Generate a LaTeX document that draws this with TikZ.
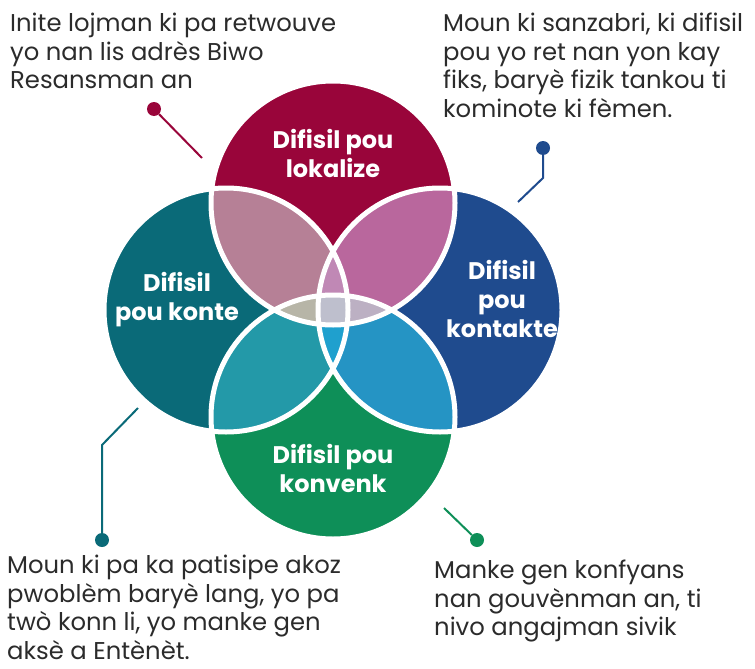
\documentclass[tikz,border=0pt]{standalone}
\usepackage{fontspec}
\setmainfont{Poppins}
\usepackage{xcolor}
\usetikzlibrary{positioning}
\definecolor{lokred}{HTML}{99053A}
\definecolor{kontteal}{HTML}{0A6A78}
\definecolor{kontblue}{HTML}{1F4B8E}
\definecolor{konvgreen}{HTML}{0E8F58}
\definecolor{txtgray}{HTML}{2B2B2B}
\def\rad{122pt}
\tikzset{
  dot/.style={circle, inner sep=0pt, minimum size=14pt},
  lead/.style={line width=2pt},
  note/.style={anchor=north west, align=left, text=txtgray, inner sep=0pt,
    font=\fontsize{24.3}{28.6}\selectfont},
  label/.style={align=center, text=white, inner sep=0pt,
    font=\fontsize{24}{29}\selectfont\bfseries}
}

\begin{document}
\begin{tikzpicture}[x=1pt, y=-1pt]
          \useasboundingbox (0,0) rectangle (755,669);
          % circle centres
          \coordinate (cT) at (333,203);
          \coordinate (cL) at (226,310);
          \coordinate (cR) at (440,310);
          \coordinate (cB) at (333,417);
          \fill[lokred] (cT) circle (\rad);
          \fill[kontteal] (cL) circle (\rad);
          \fill[kontblue] (cR) circle (\rad);
          \fill[konvgreen] (cB) circle (\rad);
          % overlaps of two
          \begin{scope}\clip (cT) circle (\rad); \fill[color={rgb,255:red,182;green,128;blue,150}] (cL) circle (\rad); \end{scope}
          \begin{scope}\clip (cT) circle (\rad); \fill[color={rgb,255:red,185;green,103;blue,157}] (cR) circle (\rad); \end{scope}
          \begin{scope}\clip (cB) circle (\rad); \fill[color={rgb,255:red,35;green,153;blue,168}] (cL) circle (\rad); \end{scope}
          \begin{scope}\clip (cB) circle (\rad); \fill[color={rgb,255:red,37;green,148;blue,196}] (cR) circle (\rad); \end{scope}
          % overlaps of three and four
          \begin{scope}\clip (cL) circle (\rad); \clip (cR) circle (\rad); \fill[color={rgb,255:red,192;green,136;blue,181}] (cT) circle (\rad); \end{scope}
          \begin{scope}\clip (cL) circle (\rad); \clip (cR) circle (\rad); \fill[color={rgb,255:red,31;green,160;blue,206}] (cB) circle (\rad); \end{scope}
          \begin{scope}\clip (cT) circle (\rad); \clip (cB) circle (\rad); \fill[color={rgb,255:red,183;green,181;blue,167}] (cL) circle (\rad); \end{scope}
          \begin{scope}\clip (cT) circle (\rad); \clip (cB) circle (\rad); \fill[color={rgb,255:red,188;green,176;blue,195}] (cR) circle (\rad); \end{scope}
          \begin{scope}\clip (cT) circle (\rad); \clip (cB) circle (\rad); \clip (cL) circle (\rad); \fill[color={rgb,255:red,190;green,191;blue,205}] (cR) circle (\rad); \end{scope}
          \foreach \c in {cT, cL, cR, cB}
            \draw[white, line width=5pt] (\c) circle (\rad);
          % labels
          \node[label] (labT) at (333,153) {Difisil pou\\lokalize};
          \node[label] (labL) at (177,300) {Difisil\\pou konte};
          \node[label] (labR) at (502,299) {Difisil\\pou\\kontakte};
          \node[label] (labB) at (333,468) {Difisil pou\\konvenk};
          % notes
          \node[note] (noteT) at (10,13) {Inite lojman ki pa retwouve\\yo nan lis adrès Biwo\\Resansman an};
          \node[note] (noteR) at (443,13) {Moun ki sanzabri, ki difisil\\pou yo ret nan yon kay\\fiks, baryè fizik tankou ti\\kominote ki fèmen.};
          \node[note] (noteL) at (7,555) {Moun ki pa ka patisipe akoz\\pwoblèm baryè lang, yo pa\\twò konn li, yo manke gen\\aksè a Entènèt.};
          \node[note] (noteB) at (434,560) {Manke gen konfyans\\nan gouvènman an, ti\\nivo angajman sivik};
          % leaders
          \node[dot, fill=lokred] (dotT) at (154,109) {};
          \coordinate (tipT) at (202,158);
          \draw[lead, lokred] (dotT) -- (tipT);
          \node[dot, fill=kontblue] (dotR) at (543,148) {};
          \coordinate (tipR) at (518,202);
          \draw[lead, kontblue] (dotR) -- ++(0,30) -- (tipR);
          \node[dot, fill=kontteal] (dotL) at (102,540) {};
          \coordinate (tipL) at (138,408);
          \draw[lead, kontteal] (tipL) -- (102,445) -- (dotL);
          \node[dot, fill=konvgreen] (dotB) at (477,540) {};
          \coordinate (tipB) at (444,508);
          \draw[lead, konvgreen] (tipB) -- (dotB);
        \end{tikzpicture}
\end{document}
